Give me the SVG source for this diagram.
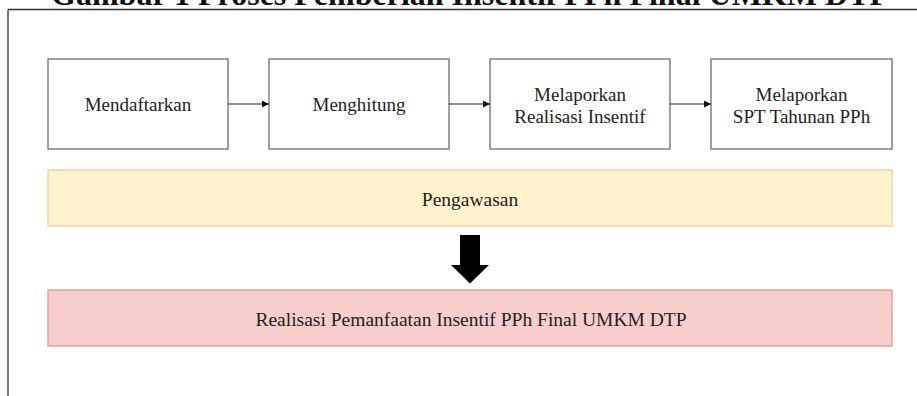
<svg xmlns="http://www.w3.org/2000/svg" width="917" height="396" viewBox="0 0 917 396">
<style>
.t{font-family:"Liberation Serif","Times New Roman",serif;font-size:19px;fill:#222;text-anchor:middle}
.t2{font-family:"Liberation Serif","Times New Roman",serif;font-size:19.5px;fill:#222;text-anchor:middle}
.title{font-family:"Liberation Serif","Times New Roman",serif;font-size:32px;font-weight:bold;fill:#111;text-anchor:middle}
.box{fill:#fff;stroke:#6e6e6e;stroke-width:1.3}
.con{stroke:#222;stroke-width:1.2;fill:none;marker-end:url(#ah)}
</style>
<defs>
<marker id="ah" viewBox="0 0 10 10" refX="10" refY="5" markerWidth="7" markerHeight="7" markerUnits="userSpaceOnUse" orient="auto">
<path d="M0,0 L10,5 L0,10 Z" fill="#111"/>
</marker>
</defs>
<rect width="917" height="396" fill="#fff"/>
<text class="title" x="470" y="5">Gambar 1 Proses Pemberian Insentif PPh Final UMKM DTP</text>
<path d="M8,9.5 H917 M8,9.5 V396" stroke="#333" stroke-width="1.3" fill="none"/>
<g id="n1"><rect class="box" x="48" y="59" width="180" height="90"/><text class="t" x="138" y="111">Mendaftarkan</text></g>
<g id="n2"><rect class="box" x="269" y="59" width="180" height="90"/><text class="t" x="359" y="111">Menghitung</text></g>
<g id="n3"><rect class="box" x="490" y="59" width="180" height="90"/><text class="t" x="580" y="100.5">Melaporkan</text><text class="t" x="580" y="122.5">Realisasi Insentif</text></g>
<g id="n4"><rect class="box" x="711" y="59" width="181" height="90"/><text class="t" x="801.5" y="100.5">Melaporkan</text><text class="t" x="801.5" y="122.5">SPT Tahunan PPh</text></g>
<g id="n5"><rect x="48" y="170" width="844" height="56" fill="#fff2cc" stroke="#e8d18f" stroke-width="1.3"/><text class="t2" x="470" y="205.5">Pengawasan</text></g>
<g id="n6"><rect x="48" y="290" width="844" height="56" fill="#f8cecc" stroke="#e09896" stroke-width="1.3"/><text class="t2" x="471" y="326">Realisasi Pemanfaatan Insentif PPh Final UMKM DTP</text></g>
<g id="connectors">
<line class="con" x1="228" y1="104" x2="269" y2="104"/>
<line class="con" x1="449" y1="104" x2="490" y2="104"/>
<line class="con" x1="670" y1="104" x2="711" y2="104"/>
<path d="M460,235 H480 V265 H489 L470,283.5 L451,265 H460 Z" fill="#000"/>
</g>
</svg>
